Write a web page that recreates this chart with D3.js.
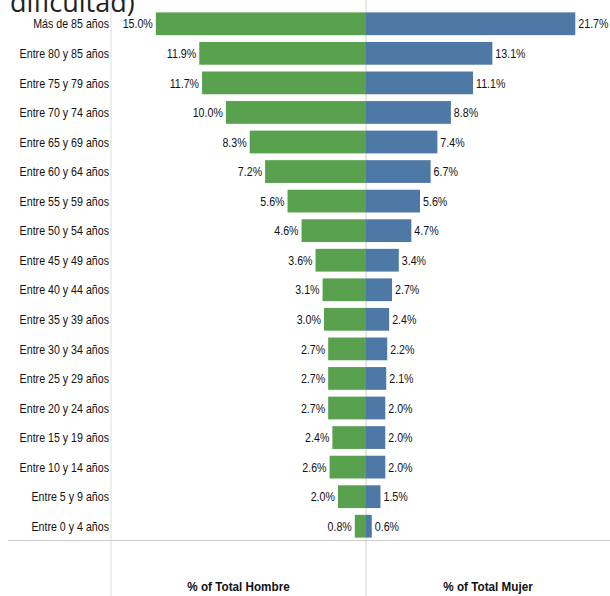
<!DOCTYPE html>
<html><head><meta charset="utf-8">
<script src="https://cdn.jsdelivr.net/npm/d3@7"></script>
<style>
body{margin:0;background:#fff;}
text{font-family:"Liberation Sans",Arial,sans-serif;}
</style></head>
<body>
<svg id="c" width="610" height="596"></svg>
<script>
const categories = ["Más de 85 años","Entre 80 y 85 años","Entre 75 y 79 años","Entre 70 y 74 años","Entre 65 y 69 años","Entre 60 y 64 años","Entre 55 y 59 años","Entre 50 y 54 años","Entre 45 y 49 años","Entre 40 y 44 años","Entre 35 y 39 años","Entre 30 y 34 años","Entre 25 y 29 años","Entre 20 y 24 años","Entre 15 y 19 años","Entre 10 y 14 años","Entre 5 y 9 años","Entre 0 y 4 años"];
const hombre = [15.0,11.9,11.7,10.0,8.3,7.2,5.6,4.6,3.6,3.1,3.0,2.7,2.7,2.7,2.4,2.6,2.0,0.8];
const mujer  = [21.7,13.1,11.1,8.8,7.4,6.7,5.6,4.7,3.4,2.7,2.4,2.2,2.1,2.0,2.0,2.0,1.5,0.6];
const axisTitles = ["% of Total Hombre","% of Total Mujer"];
const titleText = "dificultad)";

const svg = d3.select("#c");
const leftEdge = 111, center = 366, rightEdge = 610;
const y = d3.scaleBand().domain(categories).range([9, 541]).paddingInner(0.23).paddingOuter(0.115);
const xH = d3.scaleLinear().domain([0, 18.2]).range([center, leftEdge]);
const xM = d3.scaleLinear().domain([0, 25.3]).range([center, rightEdge]);
const fmt = d => d.toFixed(1) + "%";
const SX = 0.82;
const ink = "#111";

// title (cut off at top edge, as in the reference)
svg.append("text").attr("x", 10).attr("y", 11.5).text(titleText)
  .style("font-family", "'Open Sans',sans-serif").style("font-size", "27px").attr("fill", "#222");

// grid lines
svg.append("line").attr("x1", leftEdge).attr("x2", leftEdge).attr("y1", 0).attr("y2", 596).attr("stroke", "#ddd");
svg.append("line").attr("x1", center).attr("x2", center).attr("y1", 0).attr("y2", 596).attr("stroke", "#d0d0d0");
svg.append("line").attr("x1", 8).attr("x2", 610).attr("y1", 540.5).attr("y2", 540.5).attr("stroke", "#d0d0d0");

// bars
const g = svg.append("g");
g.selectAll("rect.h").data(categories).join("rect").attr("class","h")
  .attr("x", (d,i) => xH(hombre[i])).attr("y", d => y(d))
  .attr("width", (d,i) => center - xH(hombre[i])).attr("height", y.bandwidth())
  .attr("fill", "#59a14f");
g.selectAll("rect.m").data(categories).join("rect").attr("class","m")
  .attr("x", center).attr("y", d => y(d))
  .attr("width", (d,i) => xM(mujer[i]) - center).attr("height", y.bandwidth())
  .attr("fill", "#4e79a7");

// value labels (condensed)
g.selectAll("text.hl").data(categories).join("text").attr("class","hl")
  .attr("transform", (d,i) => `translate(${xH(hombre[i]) - 3},${y(d) + y.bandwidth()/2}) scale(${SX},1)`)
  .attr("dy", "0.36em").attr("text-anchor", "end").style("font-size", "13px").attr("fill", ink)
  .text((d,i) => fmt(hombre[i]));
g.selectAll("text.ml").data(categories).join("text").attr("class","ml")
  .attr("transform", (d,i) => `translate(${xM(mujer[i]) + 3},${y(d) + y.bandwidth()/2}) scale(${SX},1)`)
  .attr("dy", "0.36em").attr("text-anchor", "start").style("font-size", "13px").attr("fill", ink)
  .text((d,i) => fmt(mujer[i]));

// category axis
const ax = svg.append("g").attr("transform", `translate(${leftEdge - 2},0)`)
  .call(d3.axisLeft(y).tickSize(0).tickPadding(0));
ax.select(".domain").remove();
ax.selectAll("text").style("font-size", "13px").attr("fill", ink)
  .attr("x", 0).attr("dy", "0.36em").attr("transform", `scale(${SX},1)`)
  .style("font-family", "'Liberation Sans',Arial,sans-serif");

// axis titles
svg.append("text").attr("transform", `translate(${(leftEdge + center)/2},591) scale(0.9,1)`).attr("text-anchor", "middle")
  .style("font-size", "13px").style("font-weight", "bold").attr("fill", ink).text(axisTitles[0]);
svg.append("text").attr("transform", `translate(${(center + rightEdge)/2},591) scale(0.9,1)`).attr("text-anchor", "middle")
  .style("font-size", "13px").style("font-weight", "bold").attr("fill", ink).text(axisTitles[1]);
</script>
</body></html>
